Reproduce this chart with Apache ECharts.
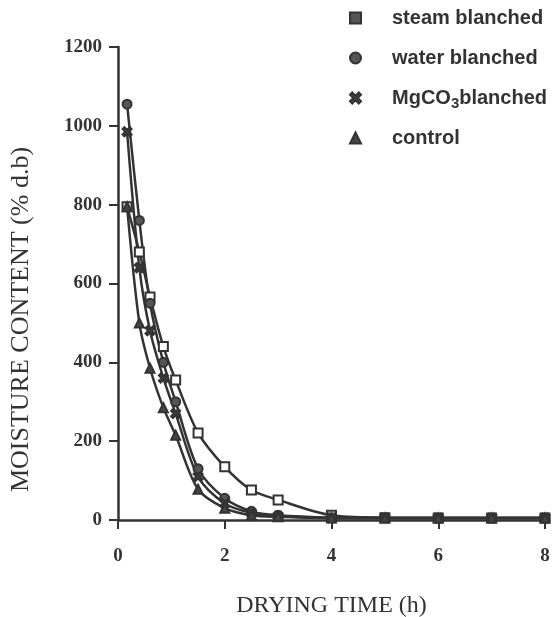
<!DOCTYPE html>
<html>
<head>
<meta charset="utf-8">
<script src="https://cdn.jsdelivr.net/npm/echarts@6/dist/echarts.min.js"></script>
<style>
  html, body { margin: 0; padding: 0; background: #fff; }
  #main { width: 553px; height: 617px; }
</style>
</head>
<body>
<div id="main"></div>
<script>
// drying time (h)
var times = [0.17, 0.4, 0.6, 0.85, 1.08, 1.5, 2, 2.5, 3, 4, 5, 6, 7, 8]
// moisture content (% d.b) per treatment
var steam = [795, 680, 566, 440, 355, 221, 135, 76, 51, 12, 6, 5, 5, 5]
var water = [1055, 760, 550, 400, 300, 130, 55, 22, 12, 6, 5, 5, 5, 5]
var mgco3 = [985, 640, 480, 360, 270, 110, 42, 18, 10, 5, 5, 5, 5, 5]
var control = [795, 500, 385, 285, 215, 78, 30, 12, 8, 5, 5, 5, 5, 5]
var names = ['steam blanched', 'water blanched', 'MgCO3 blanched', 'control']

var ink = '#333'
var crossPath = 'path://M2,0 L5,3 L8,0 L10,2 L7,5 L10,8 L8,10 L5,7 L2,10 L0,8 L3,5 L0,2 Z'

var pairs = (vals) => times.map((t, i) => [t, vals[i]])

var makeSeries = (name, vals, symbol, fill) => {
    return {
        name: name,
        type: 'line',
        data: pairs(vals),
        smooth: 0.3,
        symbol: symbol,
        symbolSize: 9,
        lineStyle: { color: ink, width: 2.5 },
        itemStyle: { color: fill, borderColor: ink, borderWidth: 2 },
        z: 3
    }
}

var element = document.querySelector('#main')
var myChart = echarts.init(element)

var legendFont = { fontFamily: 'Liberation Sans', fontWeight: 'bold', fontSize: 20, color: ink }

var option = {
    animation: false,
    grid: { left: 118, right: 8, top: 47, bottom: 97, containLabel: false, outerBoundsMode: 'none' },
    legend: {
        orient: 'vertical',
        left: 344,
        top: 0,
        itemWidth: 11,
        itemHeight: 11,
        itemGap: 14,
        data: [
            { name: names[0], icon: 'rect', itemStyle: { color: '#555', borderColor: ink } },
            { name: names[1], icon: 'circle' },
            { name: names[2], icon: crossPath },
            { name: names[3], icon: 'triangle' }
        ],
        formatter: (n) => n == names[2] ? '{t|MgCO}{sub|3}{t|blanched}' : '{t|' + n + '}',
        textStyle: {
            padding: [0, 0, 0, 26],
            rich: {
                t: Object.assign({ lineHeight: 26, height: 26 }, legendFont),
                sub: Object.assign({}, legendFont, { fontSize: 15, lineHeight: 12, verticalAlign: 'bottom' })
            }
        }
    },
    xAxis: {
        type: 'value',
        min: 0,
        max: 8,
        interval: 2,
        name: 'DRYING TIME (h)',
        nameLocation: 'middle',
        nameGap: 74,
        nameTextStyle: { fontFamily: 'Liberation Serif', fontSize: 24, color: ink },
        splitLine: { show: false },
        axisLine: { lineStyle: { color: ink, width: 2.5 } },
        axisTick: { length: 9, lineStyle: { color: ink, width: 2 } },
        axisLabel: { margin: 27, fontFamily: 'Liberation Serif', fontWeight: 'bold', fontSize: 19, color: ink }
    },
    yAxis: {
        type: 'value',
        min: 0,
        max: 1200,
        interval: 200,
        name: 'MOISTURE CONTENT (% d.b)',
        nameLocation: 'middle',
        nameGap: 84,
        nameTextStyle: { fontFamily: 'Liberation Serif', fontSize: 26, color: ink, padding: [0, 72, 0, 0] },
        splitLine: { show: false },
        axisLine: { show: true, lineStyle: { color: ink, width: 2.5 } },
        axisTick: { show: true, length: 9, lineStyle: { color: ink, width: 2 } },
        axisLabel: {
            margin: 16,
            fontFamily: 'Liberation Serif',
            fontWeight: 'bold',
            fontSize: 19,
            color: ink,
            formatter: (v) => String(v)
        }
    },
    series: [
        makeSeries(names[0], steam, 'rect', '#fff'),
        makeSeries(names[1], water, 'circle', '#555'),
        makeSeries(names[2], mgco3, crossPath, '#444'),
        makeSeries(names[3], control, 'triangle', '#444')
    ]
}

myChart.setOption(option)
</script>
</body>
</html>
